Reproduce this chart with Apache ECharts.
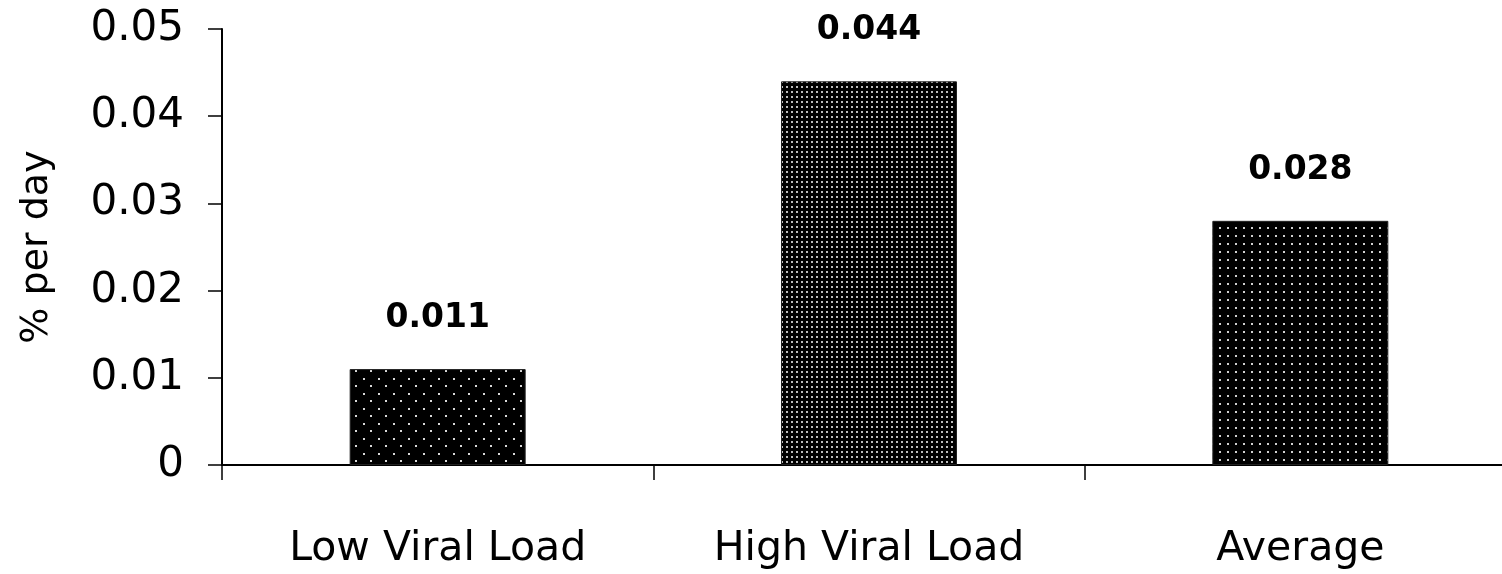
<!DOCTYPE html>
<html><head><meta charset="utf-8">
<script src="https://cdn.jsdelivr.net/npm/echarts@6/dist/echarts.min.js"></script>
<style>html,body{margin:0;padding:0;background:#fff}#c{width:1502px;height:574px}</style>
</head><body><div id="c"></div>
<script>
const categories = ['Low Viral Load', 'High Viral Load', 'Average'];
const values = [0.011, 0.044, 0.028];
const valueLabels = ['0.011', '0.044', '0.028'];
const yTicks = [0, 0.01, 0.02, 0.03, 0.04, 0.05];
const yTitle = '% per day';

function makePattern(w, h, dots, dotColor) {
  const c = document.createElement('canvas');
  c.width = w; c.height = h;
  const g = c.getContext('2d');
  g.fillStyle = '#000'; g.fillRect(0, 0, w, h);
  g.fillStyle = dotColor;
  dots.forEach(d => g.fillRect(d[0], d[1], 2, 2));
  return c;
}
const patterns = [
  makePattern(15, 15, [[3, 3], [10, 10]], '#d8d8d8'),
  makePattern(5, 5, [[1, 1]], '#bcbcbc'),
  makePattern(8, 8, [[3, 3]], '#d0d0d0')
];

const font = '"Comic Sans MS", "DejaVu Sans", sans-serif';
const chart = echarts.init(document.getElementById('c'), null, {renderer: 'canvas'});
chart.setOption({
  animation: false,
  grid: {left: 222, top: 29, width: 1294, height: 436, outerBoundsMode: 'none', containLabel: false},
  xAxis: {
    type: 'category', data: categories,
    axisLine: {lineStyle: {color: '#000', width: 2}},
    axisTick: {show: true, length: 15, lineStyle: {color: '#000', width: 1.5}, alignWithLabel: false},
    axisLabel: {color: '#000', fontSize: 41, fontFamily: font, margin: 64}
  },
  yAxis: {
    type: 'value', min: 0, max: 0.05, interval: 0.01,
    name: yTitle, nameLocation: 'middle', nameGap: 166, nameRotate: 90,
    nameTextStyle: {color: '#000', fontSize: 38, fontFamily: font},
    axisLine: {show: true, lineStyle: {color: '#000', width: 2}},
    axisTick: {show: true, length: 14, lineStyle: {color: '#000', width: 1.5}},
    splitLine: {show: false},
    axisLabel: {color: '#000', fontSize: 42, fontFamily: font, margin: 38,
      formatter: v => { const t = yTicks.find(x => Math.abs(x - v) < 1e-9); return t === 0 ? '0' : String(+t.toFixed(2)); }}
  },
  series: [{
    type: 'bar', barWidth: 176,
    data: values.map((v, i) => ({value: v, itemStyle: {color: {image: patterns[i], repeat: 'repeat'}, borderColor: '#222', borderWidth: 1}})),
    label: {show: true, position: 'top', distance: 34, color: '#000', fontWeight: 'bold', fontSize: 33, fontFamily: font,
      formatter: p => valueLabels[p.dataIndex]}
  }]
});
</script></body></html>
